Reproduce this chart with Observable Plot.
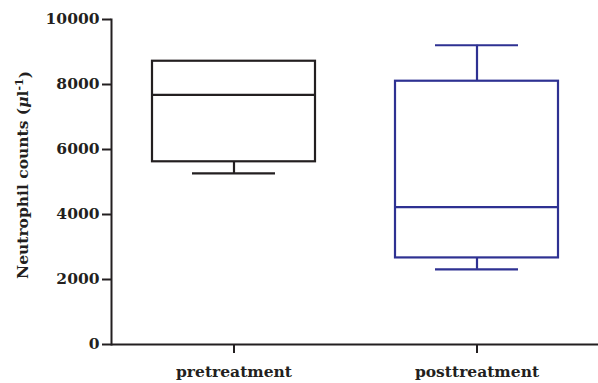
<!DOCTYPE html>
<html>
<head>
<meta charset="utf-8">
<script src="https://cdn.jsdelivr.net/npm/d3@7"></script>
<script src="https://cdn.jsdelivr.net/npm/@observablehq/plot@0.6"></script>
<style>
  html, body { margin: 0; padding: 0; background: #fff; }
</style>
</head>
<body>
<div id="chart"></div>
<script>
const categories = ["pretreatment", "posttreatment"];
const whiskerLow = [5263, 2313];
const q1 = [5622, 2664];
const median = [7680, 4230];
const q3 = [8716, 8101];
const whiskerHigh = [8716, 9207];
const boxColors = ["#231f20", "#2e3192"];
const yTicks = [0, 2000, 4000, 6000, 8000, 10000];

const data = categories.map((c, i) => ({
  cat: c, lo: whiskerLow[i], q1: q1[i], med: median[i], q3: q3[i], hi: whiskerHigh[i], color: boxColors[i]
}));

const sw = 2.2;
const plot = Plot.plot({
  width: 598,
  height: 383,
  marginLeft: 111,
  marginRight: 0,
  marginTop: 19,
  marginBottom: 39,
  style: {fontFamily: "'DejaVu Serif', serif", fontSize: "15.5px", fontWeight: "bold", color: "#231f20", background: "#fff"},
  x: {domain: categories, paddingInner: 0.33, paddingOuter: 0.165, align: 0.5},
  y: {domain: [0, 10000]},
  color: {type: "identity"},
  marks: [
    Plot.ruleX(data, {x: "cat", y1: "lo", y2: "q1", stroke: "color", strokeWidth: sw}),
    Plot.ruleX(data.filter(d => d.hi > d.q3), {x: "cat", y1: "q3", y2: "hi", stroke: "color", strokeWidth: sw}),
    Plot.tickY(data.filter(d => d.lo < d.q1), {x: "cat", y: "lo", stroke: "color", strokeWidth: sw, insetLeft: 40, insetRight: 40}),
    Plot.tickY(data.filter(d => d.hi > d.q3), {x: "cat", y: "hi", stroke: "color", strokeWidth: sw, insetLeft: 40, insetRight: 40}),
    Plot.rectY(data, {x: "cat", y1: "q1", y2: "q3", stroke: "color", fill: "none", strokeWidth: sw}),
    Plot.tickY(data, {x: "cat", y: "med", stroke: "color", strokeWidth: sw}),
    Plot.axisY({ticks: yTicks, tickSize: 9, tickPadding: 3, tickFormat: d3.format("d"), label: null, strokeWidth: 2}),
    Plot.axisX({tickSize: 9, tickPadding: 12, label: null, strokeWidth: 2}),
    Plot.frame({anchor: "left", strokeWidth: 2}),
    Plot.ruleY([0], {strokeWidth: 2})
  ]
});

// y-axis title with italic mu and superscript
const svg = d3.select(plot);
const t = svg.append("text")
  .attr("transform", "translate(28,175) rotate(-90)")
  .attr("text-anchor", "middle")
  .attr("fill", "#231f20")
  .style("font-family", "'DejaVu Serif', serif")
  .style("font-size", "15.5px")
  .style("font-weight", "bold");
t.append("tspan").text("Neutrophil counts (");
t.append("tspan").style("font-style", "italic").text("μ");
t.append("tspan").text("l");
t.append("tspan").attr("dy", "-0.45em").style("font-size", "11px").text("-1");
t.append("tspan").attr("dy", "0.45em").text(")");

document.getElementById("chart").appendChild(plot);
</script>
</body>
</html>
